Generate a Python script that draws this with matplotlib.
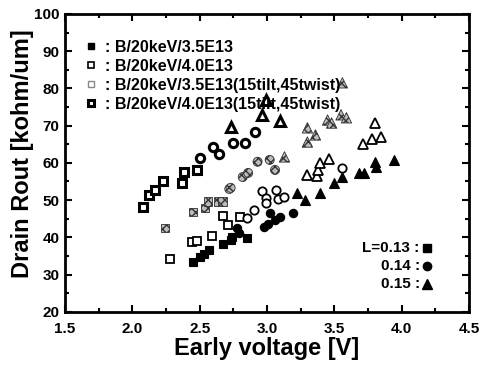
import numpy as np
import matplotlib
matplotlib.use("Agg")
import matplotlib.pyplot as plt
from matplotlib.lines import Line2D

plt.rcParams['font.family'] = ['Liberation Sans', 'DejaVu Sans']
plt.rcParams['font.weight'] = 'bold'

# B/20keV/3.5E13 (filled)
sq_35_x = [2.45, 2.50, 2.53, 2.57, 2.67, 2.73, 2.74, 2.85]
sq_35_y = [33.4, 34.8, 35.6, 36.6, 38.3, 39.3, 40.1, 39.9]
ci_35_x = [2.78, 2.79, 2.98, 3.01, 3.06, 3.10, 3.02, 3.19]
ci_35_y = [42.5, 41.2, 42.8, 43.6, 44.7, 45.5, 46.6, 46.6]
tr_35_x = [3.22, 3.28, 3.39, 3.50, 3.56, 3.68, 3.72, 3.80, 3.81, 3.94]
tr_35_y = [51.9, 50.1, 51.9, 54.6, 56.2, 57.3, 57.3, 60.3, 58.9, 60.8]

# B/20keV/4.0E13 (open)
sq_40_x = [2.28, 2.44, 2.48, 2.59, 2.67, 2.71, 2.80]
sq_40_y = [34.2, 38.8, 39.1, 40.4, 45.8, 43.4, 45.5]
ci_40_x = [2.85, 2.90, 2.96, 2.99, 2.99, 3.07, 3.08, 3.13, 3.56]
ci_40_y = [45.2, 47.4, 52.5, 50.6, 49.3, 52.8, 50.3, 50.9, 58.7]
tr_40_x = [3.30, 3.37, 3.38, 3.39, 3.46, 3.71, 3.78, 3.85, 3.80]
tr_40_y = [56.8, 56.5, 58.1, 60.0, 61.0, 65.1, 66.4, 67.0, 70.7]

# B/20keV/3.5E13 (15tilt, 45twist)
sq_35t_x = [2.24, 2.45, 2.54, 2.56, 2.64, 2.67]
sq_35t_y = [42.5, 46.8, 47.9, 49.6, 49.6, 49.6]
ci_35t_x = [2.72, 2.73, 2.82, 2.86, 2.93, 3.02, 3.06]
ci_35t_y = [53.0, 53.3, 56.2, 57.3, 60.3, 60.8, 58.1]
tr_35t_x = [3.13, 3.30, 3.30, 3.36, 3.45, 3.48, 3.55, 3.59, 3.56]
tr_35t_y = [61.6, 69.4, 65.6, 67.5, 71.5, 70.7, 72.9, 72.1, 81.5]

# B/20keV/4.0E13 (15tilt, 45twist)
sq_40t_x = [2.08, 2.12, 2.17, 2.23, 2.37, 2.38, 2.48]
sq_40t_y = [48.2, 51.4, 52.8, 55.2, 54.6, 57.6, 58.1]
ci_40t_x = [2.50, 2.60, 2.64, 2.75, 2.84, 2.91]
ci_40t_y = [61.3, 64.3, 62.4, 65.4, 65.4, 68.3]
tr_40t_x = [2.73, 2.96, 3.10, 2.99]
tr_40t_y = [69.7, 72.9, 71.3, 77.0]

legend_labels = [': B/20keV/3.5E13', ': B/20keV/4.0E13',
                 ': B/20keV/3.5E13(15tilt,45twist)', ': B/20keV/4.0E13(15tilt,45twist)']
L_labels = ['L=0.13 :', '0.14 :', '0.15 :']

fig = plt.figure(figsize=(4.89, 3.66), dpi=100)
ax = fig.add_axes([0.133, 0.148, 0.826, 0.814])

ms = {'s': 5.5, 'o': 6.0, '^': 7.0}

def filled(x, y, m):
    ax.plot(x, y, m, ls='none', ms=ms[m], mfc='black', mec='black', mew=0.8)

def opened(x, y, m):
    ax.plot(x, y, m, ls='none', ms=ms[m], mfc='white', mec='black', mew=1.3)

def speckled(x, y, m):
    ax.scatter(x, y, marker=m, s=(ms[m] + 0.5) ** 2, facecolor='#bbbbbb',
               edgecolor='#333333', hatch='xxxx', linewidths=0.6, zorder=3)

def half(x, y, m):
    ax.plot(x, y, m, ls='none', ms=ms[m], mfc='white', mec='black', mew=2.2)

for x, y, m in [(sq_35_x, sq_35_y, 's'), (ci_35_x, ci_35_y, 'o'), (tr_35_x, tr_35_y, '^')]:
    filled(x, y, m)
for x, y, m in [(sq_40_x, sq_40_y, 's'), (ci_40_x, ci_40_y, 'o'), (tr_40_x, tr_40_y, '^')]:
    opened(x, y, m)
for x, y, m in [(sq_35t_x, sq_35t_y, 's'), (ci_35t_x, ci_35t_y, 'o'), (tr_35t_x, tr_35t_y, '^')]:
    speckled(x, y, m)
for x, y, m in [(sq_40t_x, sq_40t_y, 's'), (ci_40t_x, ci_40t_y, 'o'), (tr_40t_x, tr_40t_y, '^')]:
    half(x, y, m)

ax.set_xlim(1.5, 4.5)
ax.set_ylim(20, 100)
ax.set_xticks(np.arange(1.5, 4.51, 0.5))
ax.set_xticks(np.arange(1.5, 4.51, 0.25), minor=True)
ax.set_yticks(np.arange(20, 101, 10))
ax.set_yticks(np.arange(20, 101, 5), minor=True)
ax.xaxis.set_major_formatter(plt.FormatStrFormatter('%.1f'))
ax.tick_params(which='both', direction='in', top=True, right=True, width=1.5,
               labelsize=11)
ax.tick_params(which='major', length=5)
ax.tick_params(axis='x', which='major', pad=7)
ax.tick_params(axis='y', which='major', pad=4)
ax.tick_params(which='minor', length=3)
for sp in ax.spines.values():
    sp.set_linewidth(2)

ax.set_xlabel('Early voltage [V]', fontsize=17, fontweight='bold', labelpad=1)
ax.set_ylabel('Drain Rout [kohm/um]', fontsize=17, fontweight='bold')
ax.yaxis.set_label_coords(-0.078, 0.53)

# doping legend
handles = [
    Line2D([], [], marker='s', ls='none', ms=5, mfc='black', mec='black'),
    Line2D([], [], marker='s', ls='none', ms=5, mfc='white', mec='black', mew=1.2),
    Line2D([], [], marker='s', ls='none', ms=5, mfc='white', mec='#888888', mew=1.0),
    Line2D([], [], marker='s', ls='none', ms=5, mfc='white', mec='black', mew=2.2),
]
leg = ax.legend(handles, legend_labels, loc='upper left', frameon=False,
                prop={'weight': 'bold', 'size': 11.5}, handlelength=0.8,
                handletextpad=0.5, labelspacing=0.25, borderaxespad=0.3,
                bbox_to_anchor=(0.02, 0.95))

# gate length key
L_marks = ['s', 'o', '^']
for i, (lab, m) in enumerate(zip(L_labels, L_marks)):
    yy = 0.213 - i * 0.06
    ax.text(0.878, yy, lab, transform=ax.transAxes, ha='right', va='center',
            fontsize=11, fontweight='bold')
    ax.plot(0.897, yy, m, transform=ax.transAxes, ms=ms[m], color='black',
            clip_on=False)

fig.savefig('out.png', dpi=100)
